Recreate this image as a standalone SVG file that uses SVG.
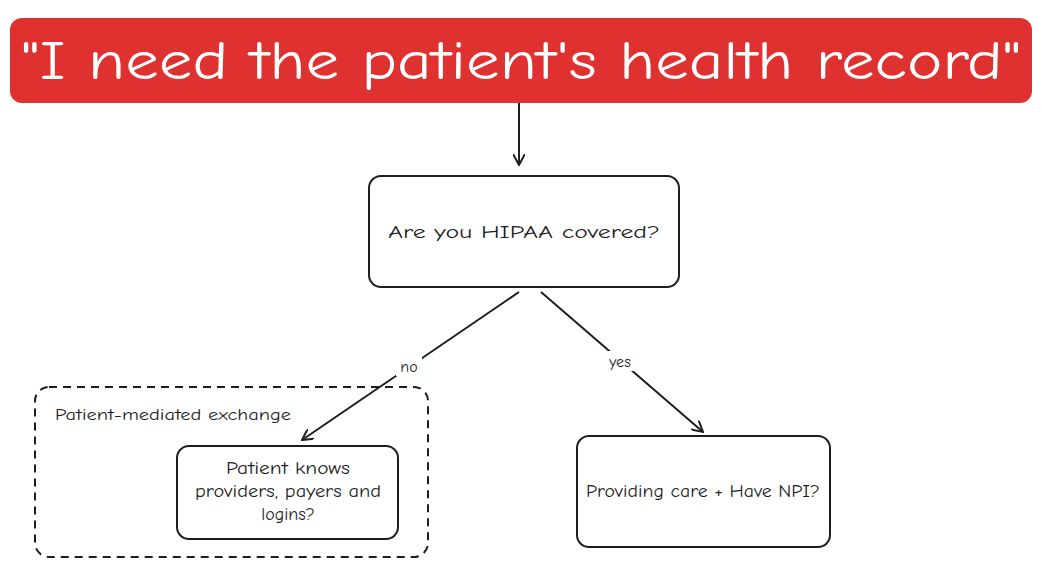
<svg xmlns="http://www.w3.org/2000/svg" width="1044" height="583" viewBox="0 0 1044 583">
<style>
text{font-family:"Comic Neue","Liberation Sans",sans-serif;fill:#1e1e1e;font-size:18px;text-anchor:middle}
.box{fill:#fff;stroke:#1e1e1e;stroke-width:2}
.ln{stroke:#1e1e1e;stroke-width:2;fill:none}
</style>
<defs><marker id="ah" viewBox="0 0 12 12" refX="11" refY="6" markerWidth="12" markerHeight="12" markerUnits="userSpaceOnUse" orient="auto"><path d="M0,0 L11,6 L0,12" fill="none" stroke="#1e1e1e" stroke-width="2"/></marker></defs>
<rect width="1044" height="583" fill="#fff"/>
<g id="title"><rect x="10" y="18" width="1022" height="85" rx="12" fill="#e03131"/>
<text x="521" y="79" style="font-size:54px;fill:#fff" textLength="1000" lengthAdjust="spacingAndGlyphs">"I need the patient's health record"</text></g>
<g id="hipaa"><rect class="box" x="369" y="176" width="310" height="111" rx="12"/><text x="524" y="238" textLength="272" lengthAdjust="spacingAndGlyphs">Are you HIPAA covered?</text></g>
<g id="group"><rect x="35" y="387" width="393" height="170" rx="14" fill="none" stroke="#1e1e1e" stroke-width="2" stroke-dasharray="8 6"/><text x="55" y="420" style="text-anchor:start;font-size:16px" textLength="236" lengthAdjust="spacingAndGlyphs">Patient-mediated exchange</text></g>
<g id="patient"><rect class="box" x="177" y="446" width="221" height="93" rx="12"/><text x="288" y="474" textLength="124" lengthAdjust="spacingAndGlyphs">Patient knows</text><text x="288" y="497" textLength="186" lengthAdjust="spacingAndGlyphs">providers, payers and</text><text x="288" y="520">logins?</text></g>
<g id="care"><rect class="box" x="577" y="436" width="253" height="111" rx="12"/><text x="703" y="497" textLength="234" lengthAdjust="spacingAndGlyphs">Providing care + Have NPI?</text></g>
<g id="connectors">
<path class="ln" d="M519,103 L519,165" marker-end="url(#ah)"/>
<path class="ln" d="M519,292 L302,440" marker-end="url(#ah)"/>
<path class="ln" d="M541,292 L703,432" marker-end="url(#ah)"/>
<rect x="396" y="356" width="26" height="20" fill="#fff"/><text x="409" y="372" style="font-size:16px">no</text>
<rect x="604" y="351" width="32" height="20" fill="#fff"/><text x="620" y="367" style="font-size:16px">yes</text>
</g>
</svg>
